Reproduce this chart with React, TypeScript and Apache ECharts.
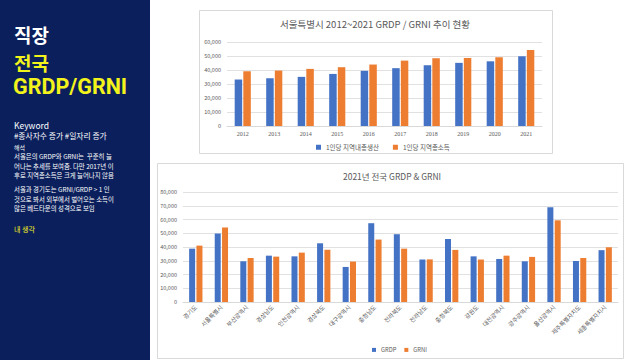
import React, { useEffect, useRef } from "react";
import * as echarts from "echarts";

const years = ["2012", "2013", "2014", "2015", "2016", "2017", "2018", "2019", "2020", "2021"];
const seoulGRDP = [33200, 34100, 35100, 37200, 39400, 41300, 43400, 45100, 46200, 49800];
const seoulGRNI = [39100, 39600, 40800, 42000, 43900, 46700, 48400, 48600, 49100, 54300];

const regions = [
  "경기도", "서울특별시", "부산광역시", "경상남도", "인천광역시", "경상북도", "대구광역시", "충청남도",
  "전라북도", "전라남도", "충청북도", "강원도", "대전광역시", "광주광역시", "울산광역시", "제주특별자치도", "세종특별자치시",
];
const regionGRDP = [38800, 49800, 29600, 33700, 33200, 42700, 25500, 57300, 49300, 30900, 45800, 33200, 31300, 29600, 68900, 29800, 37700];
const regionGRNI = [41000, 54200, 32000, 33000, 35900, 38000, 29400, 45400, 38800, 31000, 37900, 30900, 33700, 32800, 59400, 32000, 39800];

const chart1Title = "서울특별시 2012~2021 GRDP / GRNI 추이 현황";
const chart2Title = "2021년 전국 GRDP & GRNI";
const s1Names = ["1인당 지역내총생산", "1인당 지역총소득"];
const s2Names = ["GRDP", "GRNI"];

const panelLines = [
  "서울은의 GRDP와 GRNI는  꾸준히 늘",
  "어나는 추세를 보여줌. 다만 2017년 이",
  "후로 지역총소득은 크게 늘어나지 않음",
  "",
  "서울과 경기도는 GRNI/GRDP > 1 인",
  "것으로 봐서 외부에서 벌어오는 소득이",
  "많은 베드타운의 성격으로 보임",
];

const BLUE = "#4472C4";
const ORANGE = "#ED7D31";
const GRAY = "#595959";
const GRID = "#d9d9d9";
const KR = "'Noto Sans CJK KR', 'Noto Sans', sans-serif";
const NAVY = "#0b1f5c";
const YELLOW = "#f3f31c";

const fmt = (v: number) => v.toLocaleString("en-US");

export default function App() {
  const ref = useRef<HTMLDivElement>(null);
  useEffect(() => {
    if (!ref.current) return;
    const chart = echarts.init(ref.current, undefined, { renderer: "svg" });
    const bodyGraphics: any[] = [];
    const lineYs = [156.6, 166, 175.4, 182, 189.6, 199, 208.4];
    panelLines.forEach((t, i) => {
      if (!t) return;
      bodyGraphics.push({
        type: "text", x: 14, y: lineYs[i],
        style: { text: t, fill: "#ffffff", font: `6.4px ${KR}`, textVerticalAlign: "middle" },
      });
    });
    const option: any = {
      animation: false,
      backgroundColor: "#ffffff",
      graphic: [
        { type: "rect", shape: { x: 0, y: 0, width: 150, height: 360 }, style: { fill: NAVY }, z: -10 },
        { type: "rect", shape: { x: 199.5, y: 10.5, width: 353, height: 143 }, style: { fill: "#fff", stroke: GRID, lineWidth: 1 }, z: -10 },
        { type: "rect", shape: { x: 157.5, y: 163.5, width: 466, height: 195 }, style: { fill: "#fff", stroke: GRID, lineWidth: 1 }, z: -10 },
        { type: "text", x: 14, y: 34, style: { text: "직장", fill: "#ffffff", font: `bold 19px ${KR}`, textVerticalAlign: "middle" } },
        { type: "text", x: 14, y: 62, style: { text: "전국", fill: YELLOW, font: `bold 19px ${KR}`, textVerticalAlign: "middle" } },
        { type: "text", x: 13, y: 86, style: { text: "GRDP/GRNI", fill: YELLOW, font: "bold 21.5px Roboto, sans-serif", textVerticalAlign: "middle" } },
        { type: "text", x: 14, y: 125, style: { text: "Keyword", fill: "#ffffff", font: `8.5px ${KR}`, textVerticalAlign: "middle" } },
        { type: "text", x: 14, y: 135.5, style: { text: "#종사자수 증가 #일자리 증가", fill: "#ffffff", font: `7.8px ${KR}`, textVerticalAlign: "middle" } },
        { type: "text", x: 14, y: 147, style: { text: "해석", fill: "#ffffff", font: `6px ${KR}`, textVerticalAlign: "middle" } },
        ...bodyGraphics,
        { type: "text", x: 14, y: 229, style: { text: "내 생각", fill: YELLOW, font: `7px ${KR}`, textVerticalAlign: "middle" } },
      ],
      title: [
        { text: chart1Title, left: 375, top: 19, textAlign: "center", padding: 0, textStyle: { fontFamily: KR, fontSize: 9.5, fontWeight: "normal", color: GRAY } },
        { text: chart2Title, left: 392, top: 172, textAlign: "center", padding: 0, textStyle: { fontFamily: KR, fontSize: 8.5, fontWeight: "normal", color: GRAY } },
      ],
      legend: [
        { data: s1Names, left: 316, top: 144, padding: 0, itemWidth: 5, itemHeight: 5, itemGap: 14, icon: "rect", textStyle: { fontFamily: KR, fontSize: 6.5, color: GRAY }, selectedMode: false },
        { data: s2Names, left: 372, top: 347, padding: 0, itemWidth: 4, itemHeight: 4, itemGap: 8, icon: "rect", textStyle: { fontFamily: KR, fontSize: 5.8, color: GRAY }, selectedMode: false },
      ],
      grid: [
        { left: 227, right: 98, top: 42, bottom: 234 },
        { left: 183, right: 22, top: 192, bottom: 58 },
      ],
      xAxis: [
        {
          type: "category", gridIndex: 0, data: years,
          axisLine: { lineStyle: { color: GRID } }, axisTick: { show: false },
          axisLabel: { fontFamily: "'Liberation Serif', serif", fontSize: 6, color: GRAY, margin: 5 },
        },
        {
          type: "category", gridIndex: 1, data: regions,
          axisLine: { lineStyle: { color: GRID } }, axisTick: { show: false },
          axisLabel: { fontFamily: KR, fontSize: 6, color: GRAY, rotate: 45, margin: 4, interval: 0 },
        },
      ],
      yAxis: [
        {
          type: "value", gridIndex: 0, min: 0, max: 60000, interval: 10000,
          splitLine: { lineStyle: { color: GRID, width: 0.8 } },
          axisLabel: { fontFamily: KR, fontSize: 5.5, color: GRAY, formatter: fmt, margin: 6 },
        },
        {
          type: "value", gridIndex: 1, min: 0, max: 80000, interval: 10000,
          splitLine: { lineStyle: { color: GRID, width: 0.8 } },
          axisLabel: { fontFamily: KR, fontSize: 5.5, color: GRAY, formatter: fmt, margin: 6 },
        },
      ],
      series: [
        { name: s1Names[0], type: "bar", xAxisIndex: 0, yAxisIndex: 0, data: seoulGRDP, barWidth: 7.5, barGap: "15%", itemStyle: { color: BLUE } },
        { name: s1Names[1], type: "bar", xAxisIndex: 0, yAxisIndex: 0, data: seoulGRNI, barWidth: 7.5, barGap: "15%", itemStyle: { color: ORANGE } },
        { name: s2Names[0], type: "bar", xAxisIndex: 1, yAxisIndex: 1, data: regionGRDP, barWidth: 6, barGap: "22%", itemStyle: { color: BLUE } },
        { name: s2Names[1], type: "bar", xAxisIndex: 1, yAxisIndex: 1, data: regionGRNI, barWidth: 6, barGap: "22%", itemStyle: { color: ORANGE } },
      ],
    };
    chart.setOption(option);
    return () => chart.dispose();
  }, []);
  return (
    <div style={{ position: "fixed", left: 0, top: 0, width: 640, height: 360 }}>
      <div ref={ref} style={{ width: 640, height: 360 }} />
    </div>
  );
}
